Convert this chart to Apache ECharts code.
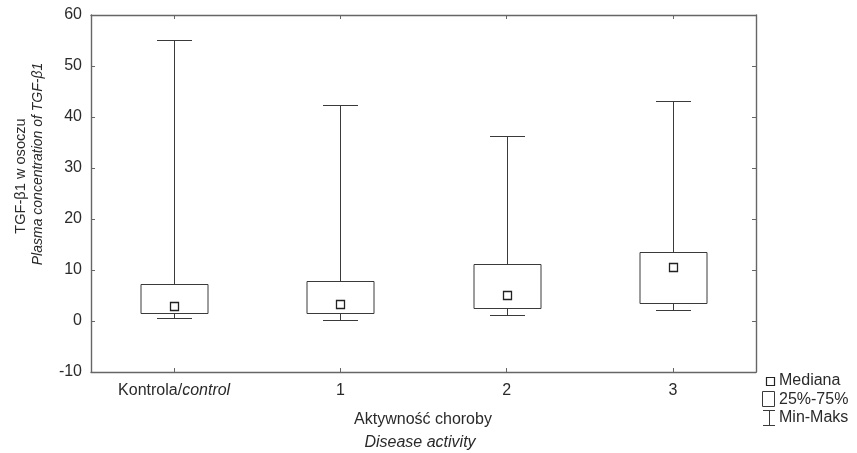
<!DOCTYPE html>
<html>
<head>
<meta charset="utf-8">
<script src="https://cdn.jsdelivr.net/npm/echarts@6/dist/echarts.min.js"></script>
<style>
  html, body { margin: 0; padding: 0; background: #fff; }
  #chart { width: 857px; height: 453px; }
</style>
</head>
<body>
<div id="chart"></div>
<script>
// TGF-β1 plasma concentration by disease activity group
const categories = ['Kontrola/control', '1', '2', '3'];
const minVals    = [0.5, 0.25, 1.1, 2.2];
const q1Vals     = [1.5, 1.5, 2.6, 3.5];
const medianVals = [2.9, 3.4, 5.1, 10.6];
const q3Vals     = [7.3, 7.9, 11.1, 13.6];
const maxVals    = [55.1, 42.3, 36.2, 43.2];
const yTicks     = [-10, 0, 10, 20, 30, 40, 50, 60];

const FONT = '"Liberation Sans", Arial, sans-serif';
const TEXT = '#2a2a2a';
const AXIS = '#666';
const LINE = '#3a3a3a';

const boxData = categories.map((c, i) => [i, minVals[i], q1Vals[i], medianVals[i], q3Vals[i], maxVals[i]]);

function renderBox(params, api) {
  const i = api.value(0);
  const pMin = api.coord([i, api.value(1)]);
  const pQ1 = api.coord([i, api.value(2)]);
  const pMed = api.coord([i, api.value(3)]);
  const pQ3 = api.coord([i, api.value(4)]);
  const pMax = api.coord([i, api.value(5)]);
  const cx = Math.round(pMin[0]) + 0.5;
  const boxW = 67, capW = 35, medS = 8;
  const st = { stroke: LINE, lineWidth: 1, fill: null };
  const r = v => Math.round(v) + 0.5;
  return {
    type: 'group',
    children: [
      { type: 'line', shape: { x1: cx, y1: r(pQ3[1]), x2: cx, y2: r(pMax[1]) }, style: st },
      { type: 'line', shape: { x1: cx - capW / 2, y1: r(pMax[1]), x2: cx + capW / 2, y2: r(pMax[1]) }, style: st },
      { type: 'line', shape: { x1: cx, y1: r(pQ1[1]), x2: cx, y2: r(pMin[1]) }, style: st },
      { type: 'line', shape: { x1: cx - capW / 2, y1: r(pMin[1]), x2: cx + capW / 2, y2: r(pMin[1]) }, style: st },
      { type: 'rect', shape: { x: cx - boxW / 2, y: r(pQ3[1]), width: boxW, height: Math.round(pQ1[1]) - Math.round(pQ3[1]) },
        style: { stroke: LINE, lineWidth: 1, fill: '#fff' } },
      { type: 'rect', shape: { x: cx - medS / 2, y: r(pMed[1] - medS / 2), width: medS, height: medS },
        style: { stroke: '#222', lineWidth: 1.3, fill: '#fff' } }
    ]
  };
}

const chart = echarts.init(document.getElementById('chart'), null, { renderer: 'canvas' });

const tickStyle = { show: true, inside: true, length: 4, lineStyle: { color: AXIS, width: 1 } };
const lineStyle = { show: true, onZero: false, lineStyle: { color: AXIS, width: 1.4 } };

chart.setOption({
  backgroundColor: '#fff',
  animation: false,
  grid: { left: 91, top: 15, right: 101, bottom: 81 },
  xAxis: [
    {
      type: 'category', data: categories, boundaryGap: true, position: 'bottom',
      axisLine: lineStyle, axisTick: Object.assign({ alignWithLabel: true, interval: 0 }, tickStyle),
      axisLabel: {
        interval: 0, hideOverlap: false,
        margin: 11, fontFamily: FONT, fontSize: 16, color: TEXT,
        formatter: v => v === 'Kontrola/control' ? 'Kontrola/{i|control}' : v,
        rich: { i: { fontFamily: FONT, fontSize: 16, color: TEXT, fontStyle: 'italic' } }
      },
      splitLine: { show: false }
    },
    {
      type: 'category', data: categories, boundaryGap: true, position: 'top',
      axisLine: lineStyle, axisTick: Object.assign({ alignWithLabel: true, interval: 0 }, tickStyle),
      axisLabel: { show: false, interval: 0 }, splitLine: { show: false }
    }
  ],
  yAxis: [
    {
      type: 'value', min: yTicks[0], max: yTicks[yTicks.length - 1], interval: 10, position: 'left',
      axisLine: lineStyle, axisTick: tickStyle,
      axisLabel: { margin: 9, fontFamily: FONT, fontSize: 16, color: TEXT },
      splitLine: { show: false }
    },
    {
      type: 'value', min: yTicks[0], max: yTicks[yTicks.length - 1], interval: 10, position: 'right',
      axisLine: lineStyle, axisTick: tickStyle,
      axisLabel: { show: false }, splitLine: { show: false }
    }
  ],
  series: [
    {
      type: 'custom', xAxisIndex: 0, yAxisIndex: 0,
      renderItem: renderBox,
      encode: { x: 0, y: [1, 2, 3, 4, 5] },
      data: boxData,
      z: 3
    }
  ],
  graphic: [
    // y-axis title (two lines, rotated)
    { type: 'text', x: 21, y: 176, rotation: Math.PI / 2,
      style: { text: 'TGF-β1 w osoczu', font: '14.6px ' + FONT, fill: TEXT, align: 'center', verticalAlign: 'middle' } },
    { type: 'text', x: 38, y: 164, rotation: Math.PI / 2,
      style: { text: 'Plasma concentration of TGF-β1', font: 'italic 14px ' + FONT, fill: TEXT, align: 'center', verticalAlign: 'middle' } },
    // x-axis title
    { type: 'text', x: 423, y: 420,
      style: { text: 'Aktywność choroby', font: '16px ' + FONT, fill: TEXT, align: 'center', verticalAlign: 'middle' } },
    { type: 'text', x: 420, y: 443,
      style: { text: 'Disease activity', font: 'italic 16px ' + FONT, fill: TEXT, align: 'center', verticalAlign: 'middle' } },
    // legend
    { type: 'rect', shape: { x: 766.5, y: 377.5, width: 8, height: 8 }, style: { stroke: '#222', lineWidth: 1.2, fill: '#fff' } },
    { type: 'text', x: 779, y: 381,
      style: { text: 'Mediana', font: '16px ' + FONT, fill: TEXT, align: 'left', verticalAlign: 'middle' } },
    { type: 'rect', shape: { x: 762.5, y: 391.5, width: 12, height: 15 }, style: { stroke: LINE, lineWidth: 1, fill: '#fff' } },
    { type: 'text', x: 779, y: 399.5,
      style: { text: '25%-75%', font: '16px ' + FONT, fill: TEXT, align: 'left', verticalAlign: 'middle' } },
    { type: 'polyline', shape: { points: [[763, 410.5], [775, 410.5]] }, style: { stroke: LINE, lineWidth: 1 } },
    { type: 'polyline', shape: { points: [[769.5, 410.5], [769.5, 425.5]] }, style: { stroke: LINE, lineWidth: 1 } },
    { type: 'polyline', shape: { points: [[763, 425.5], [775, 425.5]] }, style: { stroke: LINE, lineWidth: 1 } },
    { type: 'text', x: 779, y: 418,
      style: { text: 'Min-Maks', font: '16px ' + FONT, fill: TEXT, align: 'left', verticalAlign: 'middle' } }
  ]
});
</script>
</body>
</html>
